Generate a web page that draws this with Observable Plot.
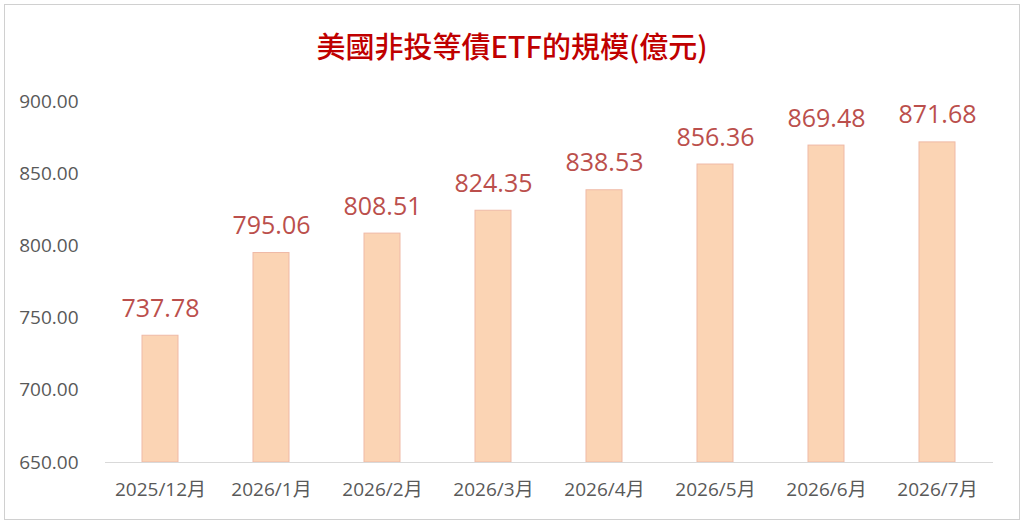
<!DOCTYPE html>
<html>
<head>
<meta charset="utf-8">
<script src="https://cdn.jsdelivr.net/npm/d3@7"></script>
<script src="https://cdn.jsdelivr.net/npm/@observablehq/plot@0.6"></script>
<style>
  body { margin: 0; background: #fff; width: 1024px; height: 524px; overflow: hidden; position: relative; font-family: "Open Sans", "Noto Sans CJK TC", sans-serif; }
  #frame { position: absolute; left: 4px; top: 4px; width: 1014px; height: 514px; border: 1px solid #d0d0d0; }
  #title { position: absolute; left: 0; top: 26px; width: 1024px; text-align: center; font-size: 29px; font-weight: 500; color: #c00000; font-family: "Noto Sans CJK TC", "Open Sans", sans-serif; line-height: 38px; }
  #chart { position: absolute; left: 0; top: 70px; }
</style>
</head>
<body>
<div id="frame"></div>
<div id="title">美國非投等債ETF的規模(億元)</div>
<div id="chart"></div>
<script>
const months = ["2025/12月", "2026/1月", "2026/2月", "2026/3月", "2026/4月", "2026/5月", "2026/6月", "2026/7月"];
const values = [737.78, 795.06, 808.51, 824.35, 838.53, 856.36, 869.48, 871.68];
const yTicks = [650, 700, 750, 800, 850, 900];

const data = months.map((m, i) => ({month: m, value: values[i]}));

const chart = Plot.plot({
  width: 1024,
  height: 450,
  marginLeft: 105,
  marginRight: 31,
  marginTop: 31,
  marginBottom: 58,
  style: {fontFamily: '"Open Sans", "Noto Sans CJK TC", sans-serif', background: "transparent"},
  x: {domain: months, paddingInner: 0.675, paddingOuter: 0.3375, label: null},
  y: {domain: [650, 900], label: null},
  marks: [
    Plot.barY(data, {x: "month", y1: 650, y2: "value", fill: "#fbd4b4", stroke: "#efb9a6", strokeWidth: 1}),
    Plot.ruleY([650], {stroke: "#d9d9d9", strokeWidth: 1.2}),
    Plot.text(data, {x: "month", y: "value", text: d => d.value.toFixed(2), lineAnchor: "bottom", dy: -19, fill: "#bb4f4c", fontSize: 25}),
    Plot.axisY({ticks: yTicks, tickFormat: d => d.toFixed(2), tickSize: 0, tickPadding: 27, fontSize: 19, fill: "#595959", label: null}),
    Plot.axisX({tickSize: 0, tickPadding: 20, fontSize: 19, fill: "#595959", label: null})
  ]
});
document.getElementById("chart").appendChild(chart);
</script>
</body>
</html>
